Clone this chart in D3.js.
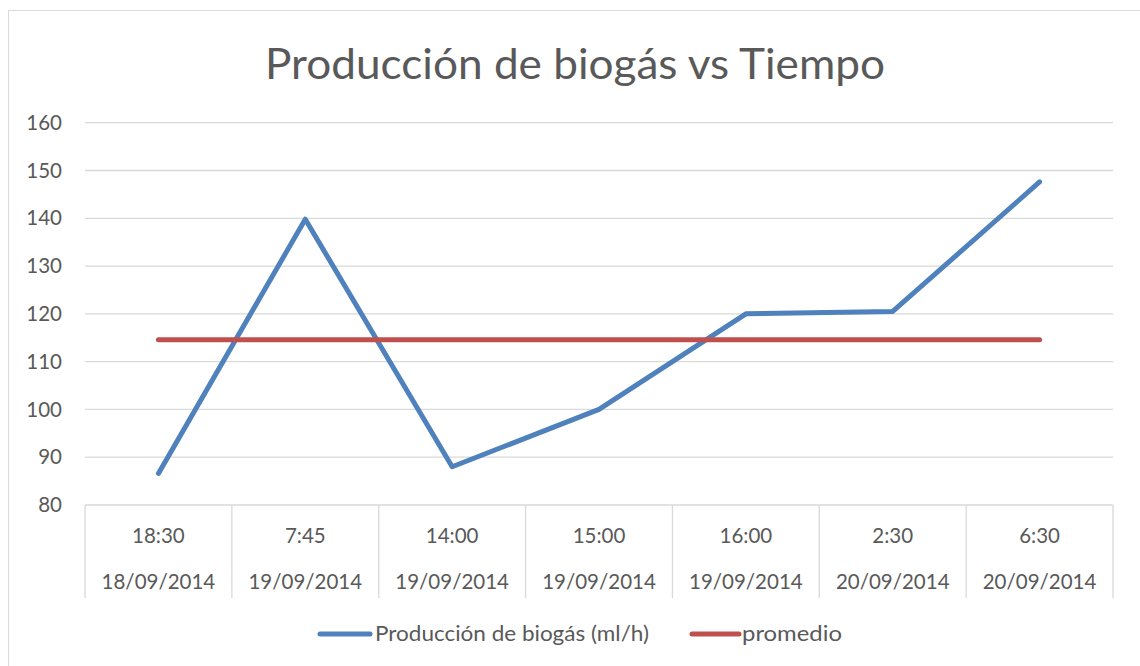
<!DOCTYPE html>
<html><head><meta charset="utf-8">
<script src="https://cdn.jsdelivr.net/npm/d3@7"></script>
<style>body{margin:0;background:#fff}svg{display:block;font-family:Lato,"Open Sans",sans-serif}</style>
</head><body><svg id="c" width="1140" height="666"></svg>
<script>
const times = ["18:30","7:45","14:00","15:00","16:00","2:30","6:30"];
const dates = ["18/09/2014","19/09/2014","19/09/2014","19/09/2014","19/09/2014","20/09/2014","20/09/2014"];
const produccion = [86.6, 139.8, 88.0, 100.0, 120.0, 120.5, 147.6];
const promedio = [114.6, 114.6, 114.6, 114.6, 114.6, 114.6, 114.6];
const yTicks = [80, 90, 100, 110, 120, 130, 140, 150, 160];
const seriesNames = ["Producción de biogás (ml/h)", "promedio"];
const colors = ["#4f81bd", "#c0504d"];

const svg = d3.select("#c");
const L = 85, R = 1113, T = 122.7, B = 505;
const FS = 20.5;
const x = d3.scaleBand().domain(d3.range(times.length)).range([L, R]);
const y = d3.scaleLinear().domain([80, 160]).range([B, T]);

svg.append("rect").attr("x", 8.5).attr("y", 10.5).attr("width", 1140).attr("height", 670)
  .attr("fill", "#fff").attr("stroke", "#d9d9d9").attr("stroke-width", 1);

svg.append("text").attr("x", 575).attr("y", 79).attr("text-anchor", "middle")
  .attr("font-size", 43).attr("fill", "#595959")
  .attr("textLength", 620).attr("lengthAdjust", "spacingAndGlyphs")
  .text("Producción de biogás vs Tiempo");

// gridlines
svg.append("g").selectAll("line").data(yTicks.filter(d => d > 80)).join("line")
  .attr("x1", L).attr("x2", R).attr("y1", d => y(d)).attr("y2", d => y(d))
  .attr("stroke", "#d9d9d9").attr("stroke-width", 1.3);

// y labels
svg.append("g").selectAll("text").data(yTicks).join("text")
  .attr("x", 62).attr("y", d => y(d)).attr("dy", "0.35em").attr("text-anchor", "end")
  .attr("font-size", FS).attr("fill", "#595959").text(d => d);

// x axis box
const ax = svg.append("g");
ax.append("line").attr("x1", L).attr("x2", R).attr("y1", B).attr("y2", B)
  .attr("stroke", "#d9d9d9").attr("stroke-width", 1.3);
ax.selectAll("line.div").data(d3.range(times.length + 1)).join("line").attr("class", "div")
  .attr("x1", i => i < times.length ? x(i) : R).attr("x2", i => i < times.length ? x(i) : R)
  .attr("y1", B).attr("y2", 598).attr("stroke", "#d9d9d9").attr("stroke-width", 1.3);
ax.selectAll("text.t").data(times).join("text").attr("class", "t")
  .attr("x", (d, i) => x(i) + x.bandwidth() / 2).attr("y", 536).attr("dy", "0.35em").attr("text-anchor", "middle")
  .attr("font-size", FS).attr("fill", "#595959").text(d => d);
ax.selectAll("text.d").data(dates).join("text").attr("class", "d")
  .attr("x", (d, i) => x(i) + x.bandwidth() / 2).attr("y", 582).attr("dy", "0.35em").attr("text-anchor", "middle")
  .attr("font-size", FS).attr("fill", "#595959").text(d => d);

const line = d3.line().x((d, i) => x(i) + x.bandwidth() / 2).y(d => y(d));
[produccion, promedio].forEach((s, k) => {
  svg.append("path").attr("d", line(s)).attr("fill", "none")
    .attr("stroke", colors[k]).attr("stroke-width", 5)
    .attr("stroke-linecap", "round").attr("stroke-linejoin", "round");
});

// legend
const lg = svg.append("g");
const legendItems = [{x1: 320, x2: 370, tx: 375, w: 274}, {x1: 692, x2: 739, tx: 742, w: 100}];
legendItems.forEach((p, i) => {
  lg.append("line").attr("x1", p.x1).attr("x2", p.x2).attr("y1", 634).attr("y2", 634)
    .attr("stroke", colors[i]).attr("stroke-width", 5).attr("stroke-linecap", "round");
  lg.append("text").attr("x", p.tx).attr("y", 634).attr("dy", "0.35em")
    .attr("font-size", FS).attr("fill", "#595959")
    .attr("textLength", p.w).attr("lengthAdjust", "spacingAndGlyphs").text(seriesNames[i]);
});
</script></body></html>
